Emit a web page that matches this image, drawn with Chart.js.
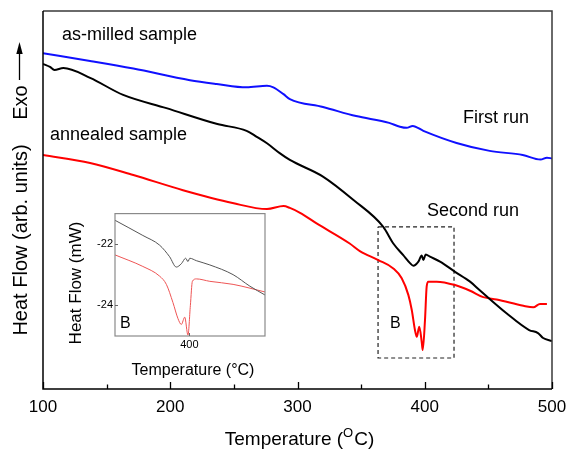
<!DOCTYPE html>
<html>
<head>
<meta charset="utf-8">
<script src="https://cdn.jsdelivr.net/npm/chart.js@4.4.1/dist/chart.umd.min.js"></script>
<style>
  html, body { margin: 0; padding: 0; background: #ffffff; }
  #wrap { position: relative; width: 579px; height: 458px; }
  #main { position: absolute; left: 0; top: 0; }
  #inset { position: absolute; left: 60px; top: 205px; }
</style>
</head>
<body>
<div id="wrap">
  <canvas id="main" width="579" height="458"></canvas>
  <canvas id="inset" width="215" height="180"></canvas>
</div>
<script>
// ---------- DATA ----------
// Main panel: temperature (°C) vs heat flow (arbitrary units, 0-100)
const blueT = [100,137,171,215.5,236.5,260,276,281,289,294,320,346,372,380.5,385.8,390.5,398.9,425,451,477,491,496,500];
const blueV = [88.8,86.8,84.8,81.7,80.7,79.8,80.2,79.8,78.0,76.7,74.6,72.2,70.4,69.4,69.1,69.6,68.3,65.1,63.0,61.9,60.7,61.2,61.0];

const blackT = [100,105.5,109,116,137,163,197,237,260,268,276,286,294,320,344,367.4,375.3,383.1,388.4,391,395,397.6,398.9,400.7,404.1,412,423.8,435.6,443,464,482,489,493,500];
const blackV = [86.0,85.2,84.4,84.9,82.3,77.8,74.3,70.1,68.3,66.7,65.0,62.4,60.6,56.2,50.0,42.9,38.5,35.4,33.3,32.6,33.7,35.3,34.1,35.6,35.0,33.7,31.0,28.4,26.2,20.1,15.6,14.8,13.5,12.7];

const redT = [100,137,171,210,249,276,289,294,302,315,341,349,363.5,375.3,381.9,387.1,389.8,392.3,393.7,395.7,397.6,398.4,400.2,401.5,402.8,409.4,423.8,435.6,446,456.5,477.5,485.3,490.6,496];
const redV = [61.9,59.8,56.6,52.6,49.2,47.6,48.4,47.9,46.6,43.8,38.5,36.5,34.1,31.9,29.3,24.9,20.9,15.6,13.8,16.5,12.5,10.3,18.3,27.1,28.4,28.4,27.5,26.0,24.3,23.7,22.0,21.6,22.5,22.5];

// Dashed region "B"
const boxT = [363.3, 423];
const boxV = [8.2, 42.9];

// Main axis ticks
const mainTicksMajor = [100,200,300,400,500];
const mainTicksMinor = [150,250,350,450];

// Inset: Heat Flow (mW)
const insetBlackT = [338,361.2,375.2,383.5,389.1,393.3,396.9,398.8,400.3,405.8,417,436.4,450.4,463];
const insetBlackY = [-21.22,-21.72,-22.04,-22.42,-22.76,-22.65,-22.47,-22.58,-22.47,-22.55,-22.69,-23.01,-23.39,-23.68];
const insetRedT = [338,361.2,375.2,380.8,386.3,390.5,393.3,396.1,398.8,400.8,402.5,405.8,417,436.4,463];
const insetRedY = [-22.36,-22.74,-23.06,-23.33,-23.93,-24.46,-24.65,-24.41,-25.0,-24.03,-23.23,-23.15,-23.23,-23.33,-23.58];
const insetTicksX = [400];
const insetTicksY = [-24,-22];

// Text labels
const labels = [
  {text: 'as-milled sample', T: 114.9, v: 92.2},
  {text: 'annealed sample',  T: 105.5, v: 65.9},
  {text: 'First run',        T: 430.1, v: 70.3},
  {text: 'Second run',       T: 401.8, v: 45.8},
  {text: 'B',                T: 372.7, v: 16.1, small: true}
];

// ---------- helpers ----------
const FONT = "'Liberation Sans', Arial, sans-serif";
const pts = (xs, ys) => xs.map((x, i) => ({x: x, y: ys[i]}));
const boxPts = () => [
  {x: boxT[0], y: boxV[1]}, {x: boxT[1], y: boxV[1]},
  {x: boxT[1], y: boxV[0]}, {x: boxT[0], y: boxV[0]},
  {x: boxT[0], y: boxV[1]}
];

// ---------- main chart ----------
const mainDeco = {
  id: 'mainDeco',
  afterDraw(chart) {
    const ctx = chart.ctx;
    const a = chart.chartArea;
    const xs = chart.scales.x, ys = chart.scales.y;
    ctx.save();
    // frame
    ctx.lineWidth = 1.5;
    ctx.strokeStyle = '#3a3a3a';
    ctx.beginPath();
    ctx.moveTo(a.left, a.top); ctx.lineTo(a.right, a.top); ctx.lineTo(a.right, a.bottom);
    ctx.stroke();
    ctx.strokeStyle = '#000';
    ctx.beginPath();
    ctx.moveTo(a.left, a.top); ctx.lineTo(a.left, a.bottom); ctx.lineTo(a.right, a.bottom);
    ctx.stroke();
    // inward ticks
    ctx.lineWidth = 1.3;
    mainTicksMajor.forEach(t => {
      const px = Math.round(xs.getPixelForValue(t)) + 0.5;
      ctx.beginPath(); ctx.moveTo(px, a.bottom); ctx.lineTo(px, a.bottom - 7); ctx.stroke();
    });
    mainTicksMinor.forEach(t => {
      const px = Math.round(xs.getPixelForValue(t)) + 0.5;
      ctx.beginPath(); ctx.moveTo(px, a.bottom); ctx.lineTo(px, a.bottom - 4.5); ctx.stroke();
    });
    // annotations
    ctx.fillStyle = '#000';
    ctx.textBaseline = 'alphabetic';
    ctx.textAlign = 'left';
    labels.forEach(l => {
      ctx.font = (l.small ? '16px ' : '18px ') + FONT;
      ctx.fillText(l.text, xs.getPixelForValue(l.T), ys.getPixelForValue(l.v));
    });
    // x title with superscript O
    const big = '19px ' + FONT, sup = '13px ' + FONT;
    ctx.font = big; const w1 = ctx.measureText('Temperature (').width; const w3 = ctx.measureText('C)').width;
    ctx.font = sup; const w2 = ctx.measureText('O').width + 1;
    const cx = (a.left + a.right) / 2 + 2;
    let x0 = cx - (w1 + w2 + w3) / 2;
    const by = 445;
    ctx.font = big; ctx.fillText('Temperature (', x0, by);
    ctx.font = sup; ctx.fillText('O', x0 + w1, by - 8.5);
    ctx.font = big; ctx.fillText('C)', x0 + w1 + w2, by);
    // y title (rotated)
    ctx.save();
    ctx.translate(27, 240);
    ctx.rotate(-Math.PI / 2);
    ctx.font = '20px ' + FONT;
    ctx.textAlign = 'center';
    ctx.fillText('Heat Flow (arb. units)', 0, 0);
    ctx.restore();
    ctx.save();
    ctx.translate(27, 102.5);
    ctx.rotate(-Math.PI / 2);
    ctx.font = '20px ' + FONT;
    ctx.textAlign = 'center';
    ctx.fillText('Exo', 0, 0);
    ctx.restore();
    // arrow
    ctx.strokeStyle = '#000';
    ctx.lineWidth = 1.3;
    ctx.beginPath(); ctx.moveTo(19.5, 80); ctx.lineTo(19.5, 50); ctx.stroke();
    ctx.beginPath(); ctx.moveTo(19.5, 42); ctx.lineTo(16.3, 54); ctx.lineTo(22.7, 54); ctx.closePath();
    ctx.fillStyle = '#000'; ctx.fill();
    ctx.restore();
  }
};

new Chart(document.getElementById('main'), {
  type: 'line',
  data: {
    datasets: [
      {label: 'as-milled, first run', data: pts(blueT, blueV), borderColor: '#1010ff', borderWidth: 2, cubicInterpolationMode: 'monotone'},
      {label: 'as-milled, second run', data: pts(blackT, blackV), borderColor: '#000000', borderWidth: 2, cubicInterpolationMode: 'monotone'},
      {label: 'annealed', data: pts(redT, redV), borderColor: '#ff0000', borderWidth: 2, cubicInterpolationMode: 'monotone'},
      {label: 'B', data: boxPts(), borderColor: '#222222', borderWidth: 1.2, borderDash: [4, 3], tension: 0}
    ]
  },
  options: {
    responsive: false,
    devicePixelRatio: 1,
    animation: false,
    parsing: true,
    elements: { point: { radius: 0, hoverRadius: 0 } },
    layout: { padding: { left: 43, right: 27, top: 11, bottom: 0 } },
    plugins: { legend: { display: false }, tooltip: { enabled: false } },
    scales: {
      x: {
        type: 'linear', min: 100, max: 500,
        afterBuildTicks: s => { s.ticks = mainTicksMajor.map(v => ({value: v})); },
        afterFit: s => { s.height = 69; },
        grid: { display: false, drawTicks: false },
        border: { display: false },
        ticks: { font: { family: FONT, size: 17 }, color: '#000', padding: 8, maxRotation: 0 },
        title: { display: false }
      },
      y: {
        type: 'linear', min: 0, max: 100, display: false
      }
    }
  },
  plugins: [mainDeco]
});

// ---------- inset chart ----------
const insetDeco = {
  id: 'insetDeco',
  afterDraw(chart) {
    const ctx = chart.ctx;
    const a = chart.chartArea;
    const xs = chart.scales.x, ys = chart.scales.y;
    ctx.save();
    ctx.strokeStyle = '#8a8a8a';
    ctx.lineWidth = 1.2;
    ctx.strokeRect(a.left, a.top, a.right - a.left, a.bottom - a.top);
    ctx.strokeStyle = '#666';
    ctx.lineWidth = 1;
    insetTicksY.forEach(v => {
      const py = Math.round(ys.getPixelForValue(v)) + 0.5;
      ctx.beginPath(); ctx.moveTo(a.left, py); ctx.lineTo(a.left + 3, py); ctx.stroke();
    });
    insetTicksX.forEach(v => {
      const px = Math.round(xs.getPixelForValue(v)) + 0.5;
      ctx.beginPath(); ctx.moveTo(px, a.bottom); ctx.lineTo(px, a.bottom - 3); ctx.stroke();
    });
    ctx.fillStyle = '#000';
    ctx.textBaseline = 'alphabetic';
    // B
    ctx.font = '16px ' + FONT;
    ctx.textAlign = 'left';
    ctx.fillText('B', a.left + 5, a.bottom - 8);
    // x title
    ctx.font = '16px ' + FONT;
    ctx.textAlign = 'center';
    ctx.fillText('Temperature (\u00B0C)', 133, 170);
    // y title
    ctx.save();
    ctx.translate(21, 78);
    ctx.rotate(-Math.PI / 2);
    ctx.font = '17px ' + FONT;
    ctx.textAlign = 'center';
    ctx.fillText('Heat Flow (mW)', 0, 0);
    ctx.restore();
    ctx.restore();
  }
};

new Chart(document.getElementById('inset'), {
  type: 'line',
  data: {
    datasets: [
      {label: 'second run', data: pts(insetBlackT, insetBlackY), borderColor: '#555555', borderWidth: 1, cubicInterpolationMode: 'monotone'},
      {label: 'annealed', data: pts(insetRedT, insetRedY), borderColor: '#ee5555', borderWidth: 1, cubicInterpolationMode: 'monotone'}
    ]
  },
  options: {
    responsive: false,
    devicePixelRatio: 1,
    animation: false,
    elements: { point: { radius: 0, hoverRadius: 0 } },
    layout: { padding: { left: 0, right: 10, top: 6, bottom: 0 } },
    plugins: { legend: { display: false }, tooltip: { enabled: false } },
    scales: {
      x: {
        type: 'linear', min: 338, max: 463,
        afterBuildTicks: s => { s.ticks = insetTicksX.map(v => ({value: v})); },
        afterFit: s => { s.height = 49; },
        grid: { display: false, drawTicks: false },
        border: { display: false },
        ticks: { font: { family: FONT, size: 11 }, color: '#000', padding: 2, maxRotation: 0 }
      },
      y: {
        type: 'linear', min: -25.03, max: -21.0,
        afterBuildTicks: s => { s.ticks = insetTicksY.map(v => ({value: v})); },
        afterFit: s => { s.width = 55; },
        grid: { display: false, drawTicks: false },
        border: { display: false },
        ticks: { font: { family: FONT, size: 11 }, color: '#000', padding: 2 }
      }
    }
  },
  plugins: [insetDeco]
});
</script>
</body>
</html>
